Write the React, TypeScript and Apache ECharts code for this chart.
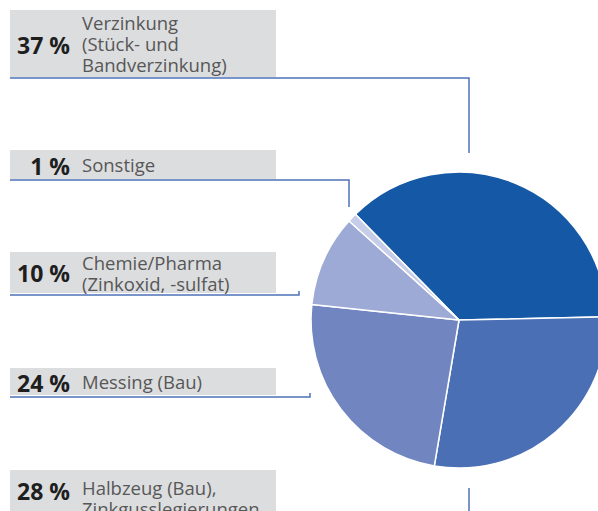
import React, { useEffect, useRef } from "react";
import * as echarts from "echarts";

// Data
const categories = [
  "Verzinkung\n(Stück- und\nBandverzinkung)",
  "Halbzeug (Bau),\nZinkgusslegierungen",
  "Messing (Bau)",
  "Chemie/Pharma\n(Zinkoxid, -sulfat)",
  "Sonstige",
];
const values = [37, 28, 24, 10, 1];
const colors = ["#1559a6", "#4a6fb5", "#7185c0", "#9daad6", "#c6cde8"];

// Layout of label boxes (top, height), percent label centre and leader line points
const boxTops = [10, 470, 368, 252, 150];
const boxHeights = [67, 56, 27, 41, 29];
const pctY = [44.5, 491, 382.5, 273, 165.5];
const leaderLines: number[][][] = [
  [[10, 78], [469, 78], [469, 153]],
  [[469, 488], [469, 520]],
  [[10, 397], [310, 397], [310, 393]],
  [[10, 295], [299, 295], [299, 291]],
  [[10, 180], [349, 180], [349, 207]],
];

export default function App() {
  const ref = useRef<HTMLDivElement>(null);
  useEffect(() => {
    if (!ref.current) return;
    const chart = echarts.init(ref.current, undefined, { renderer: "svg" });
    const graphics: any[] = [];
    categories.forEach((cat, i) => {
      const top = boxTops[i];
      const h = boxHeights[i];
      const cy = top + h / 2;
      graphics.push({
        type: "rect",
        shape: { x: 10, y: top, width: 266, height: h },
        style: { fill: "#dcdddf" },
        silent: true,
      });
      graphics.push({
        type: "text",
        x: 70,
        y: pctY[i],
        style: {
          text: `${values[i]} %`,
          fontFamily: "Open Sans",
          fontWeight: "bold",
          fontSize: 23,
          fill: "#1e1e1e",
          align: "right",
          verticalAlign: "middle",
        },
        silent: true,
      });
      graphics.push({
        type: "text",
        x: 82,
        y: cy,
        style: {
          text: cat,
          fontFamily: "Open Sans",
          fontSize: 18.5,
          lineHeight: 21,
          fill: "#575757",
          align: "left",
          verticalAlign: "middle",
        },
        silent: true,
      });
      graphics.push({
        type: "polyline",
        shape: { points: leaderLines[i] },
        style: { stroke: "#4d72b6", lineWidth: 1.5, fill: null },
        silent: true,
      });
    });

    chart.setOption({
      animation: false,
      backgroundColor: "#ffffff",
      series: [
        {
          type: "pie",
          center: [459, 320],
          radius: 148,
          startAngle: 134.4,
          clockwise: true,
          silent: true,
          label: { show: false },
          labelLine: { show: false },
          itemStyle: { borderColor: "#ffffff", borderWidth: 1.5 },
          data: categories.map((c, i) => ({
            name: c,
            value: values[i],
            itemStyle: { color: colors[i] },
          })),
        },
      ],
      graphic: graphics,
    });
    return () => chart.dispose();
  }, []);
  return (
    <div
      ref={ref}
      style={{ position: "fixed", left: 0, top: 0, width: 598, height: 511 }}
    />
  );
}
